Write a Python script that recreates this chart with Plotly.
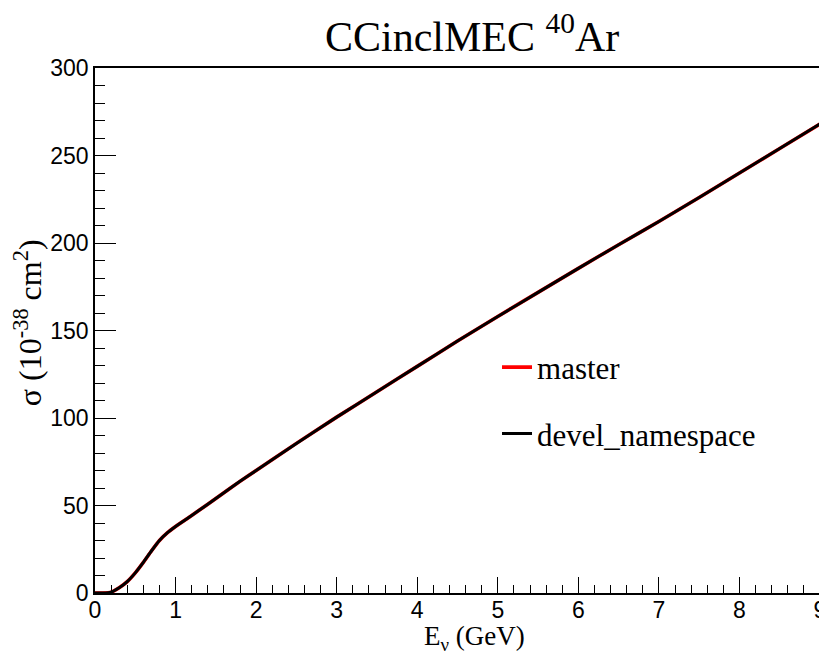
import plotly.graph_objects as go

# Neutrino energy (GeV)
energy = [0.0, 0.1, 0.2, 0.3, 0.4, 0.5, 0.6, 0.7, 0.8, 0.9, 1.0, 1.1, 1.2, 1.4, 1.6, 1.8,
          2.0, 2.5, 3.0, 3.5, 4.0, 4.5, 5.0, 5.5, 6.0, 6.5, 7.0, 7.5, 8.0, 8.5, 9.0]
# Cross section (1e-38 cm^2), branch "master"
sigma_master = [0.0, 0.0, 0.5, 3.0, 6.5, 11.5, 17.5, 24.0, 30.0, 34.5, 38.0, 41.2, 44.3, 50.7,
                57.3, 63.8, 70.0, 85.5, 100.5, 115.0, 129.5, 144.0, 158.0, 171.8, 185.5,
                199.0, 212.3, 226.0, 240.0, 254.0, 268.0]
# Cross section (1e-38 cm^2), branch "devel_namespace"
sigma_devel = [0.0, 0.0, 0.5, 3.0, 6.5, 11.5, 17.5, 24.0, 30.0, 34.5, 38.0, 41.2, 44.3, 50.7,
               57.3, 63.8, 70.0, 85.5, 100.5, 115.0, 129.5, 144.0, 158.0, 171.8, 185.5,
               199.0, 212.3, 226.0, 240.0, 254.0, 268.0]

x_ticks = [0, 1, 2, 3, 4, 5, 6, 7, 8, 9]
y_ticks = [0, 50, 100, 150, 200, 250, 300]

SERIF = "Liberation Serif, Times New Roman, serif"
SANS = "Liberation Sans, Arial, sans-serif"

fig = go.Figure()
fig.add_trace(go.Scatter(x=energy, y=sigma_master, mode="lines", name="master",
                         legendgroup="a",
                         line=dict(color="#ff0000", width=3.6, shape="spline", smoothing=0.5)))
fig.add_trace(go.Scatter(x=energy, y=sigma_devel, mode="lines", name="devel_namespace",
                         legendgroup="b",
                         line=dict(color="#000000", width=3, shape="spline", smoothing=0.5)))

axis_common = dict(
    showgrid=False, zeroline=False, showline=True, linecolor="black", linewidth=1.5,
    mirror=True, ticks="inside", tickcolor="black", tickwidth=1.2, automargin=False,
    tickfont=dict(family=SANS, size=23, color="black"),
)

fig.update_xaxes(range=[0, 9], tickvals=x_ticks, ticklen=16, ticklabelstandoff=-4,
                 minor=dict(ticks="inside", ticklen=8, dtick=0.2, tickcolor="black", tickwidth=1.2),
                 **axis_common)
fig.update_yaxes(range=[0, 300], tickvals=y_ticks, ticklen=21,
                 minor=dict(ticks="inside", ticklen=10, dtick=10, tickcolor="black", tickwidth=1.2),
                 **axis_common)

# page body adds an 8px offset, so the figure is 8px smaller than the window
fig.update_layout(
    width=819, height=646,
    margin=dict(l=87, r=7, t=60, b=61),
    paper_bgcolor="white", plot_bgcolor="white",
    showlegend=True,
    legend=dict(x=0.5545, y=0.481, xanchor="left", yanchor="top",
                bgcolor="rgba(0,0,0,0)", borderwidth=0,
                font=dict(family=SERIF, size=31, color="black"),
                tracegroupgap=23),
    annotations=[
        dict(text="CCinclMEC <sup>40</sup>Ar", x=0.52, y=1.0, xref="paper", yref="paper",
             yshift=35, showarrow=False, xanchor="center", yanchor="middle",
             font=dict(family=SERIF, size=42, color="black")),
        dict(text="E<sub>ν</sub> (GeV)", x=0.523, y=0, xref="paper", yref="paper",
             yshift=-45, showarrow=False, xanchor="center", yanchor="middle",
             font=dict(family=SERIF, size=27, color="black")),
        dict(text="σ (10<sup>-38</sup> cm<sup>2</sup>)", x=0, y=0.514, xref="paper", yref="paper",
             xshift=-67, showarrow=False, xanchor="center", yanchor="middle", textangle=-90,
             font=dict(family=SERIF, size=32, color="black")),
    ],
)

fig.write_html("out.html")
